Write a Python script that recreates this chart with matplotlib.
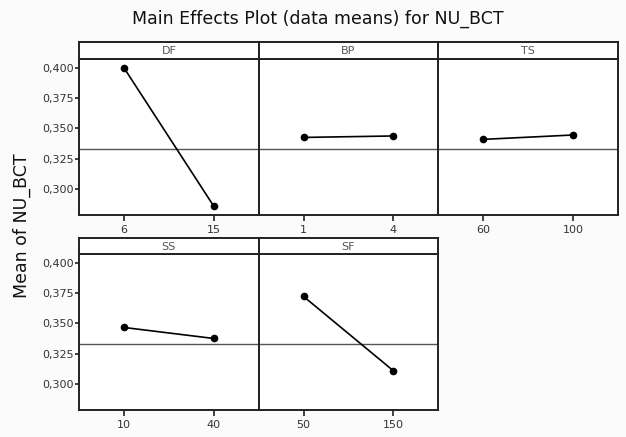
import numpy as np
import matplotlib.pyplot as plt

# factor names, levels and the mean response at each level
factors = ["DF", "BP", "TS", "SS", "SF"]
levels = [["6", "15"], ["1", "4"], ["60", "100"], ["10", "40"], ["50", "150"]]
means = [
    [0.4000, 0.2860],
    [0.3426, 0.3438],
    [0.3410, 0.3446],
    [0.3467, 0.3376],
    [0.3722, 0.3110],
]
grand_mean = 0.3328
yticks = [0.300, 0.325, 0.350, 0.375, 0.400]

W, H = 626, 437
fig = plt.figure(figsize=(W / 100, H / 100), dpi=100)
fig.patch.set_facecolor("#fbfbfb")

frame_col = "#222222"

def px_box(x0, y0, x1, y1):
    # pixel box (top-left origin) -> figure fraction [l, b, w, h]
    return [x0 / W, 1 - y1 / H, (x1 - x0) / W, (y1 - y0) / H]

left = 79
pw = (618 - 79) / 3.0
rows = [(42, 59, 215), (238, 254, 410)]  # strip top, plot top, plot bottom

for k, name in enumerate(factors):
    r, c = divmod(k, 3)
    st, pt, pb = rows[r]
    x0 = left + c * pw
    x1 = x0 + pw

    ax = fig.add_axes(px_box(x0, pt, x1, pb))
    ax.set_facecolor("white")
    xs = np.arange(1, len(levels[k]) + 1)
    ax.axhline(grand_mean, color="#555555", lw=1.0, zorder=1)
    ax.plot(xs, means[k], color="black", lw=1.2, marker="o", ms=4.5,
            mfc="black", mec="black", zorder=3)
    ax.set_xlim(0.5, 2.5)
    ax.set_ylim(0.2787, 0.4072)
    ax.set_xticks(xs)
    ax.set_xticklabels(levels[k], fontsize=8, color="#333333")
    ax.set_yticks(yticks)
    if c == 0:
        ax.set_yticklabels([("%.3f" % v).replace(".", ",") for v in yticks],
                           fontsize=8, color="#333333")
        ax.tick_params(axis="y", length=3, width=1.2, color=frame_col, pad=1)
    else:
        ax.tick_params(axis="y", left=False, labelleft=False)
    ax.tick_params(axis="x", length=4, width=1.2, color=frame_col, pad=3)
    for s in ax.spines.values():
        s.set_linewidth(1.4)
        s.set_color(frame_col)

    sx = fig.add_axes(px_box(x0, st, x1, pt))
    sx.set_facecolor("white")
    sx.set_xticks([])
    sx.set_yticks([])
    for s in sx.spines.values():
        s.set_linewidth(1.4)
        s.set_color(frame_col)
    sx.text(0.5, 0.45, name, ha="center", va="center", fontsize=8,
            color="#555555", transform=sx.transAxes)

fig.text(318 / W, 1 - 19 / H, "Main Effects Plot (data means) for NU_BCT",
         ha="center", va="center", fontsize=12.5, color="#111111")
fig.text(22 / W, 1 - 226 / H, "Mean of NU_BCT", rotation=90,
         ha="center", va="center", fontsize=12.5, color="#111111")

fig.savefig("out.png", dpi=100, facecolor=fig.get_facecolor())
